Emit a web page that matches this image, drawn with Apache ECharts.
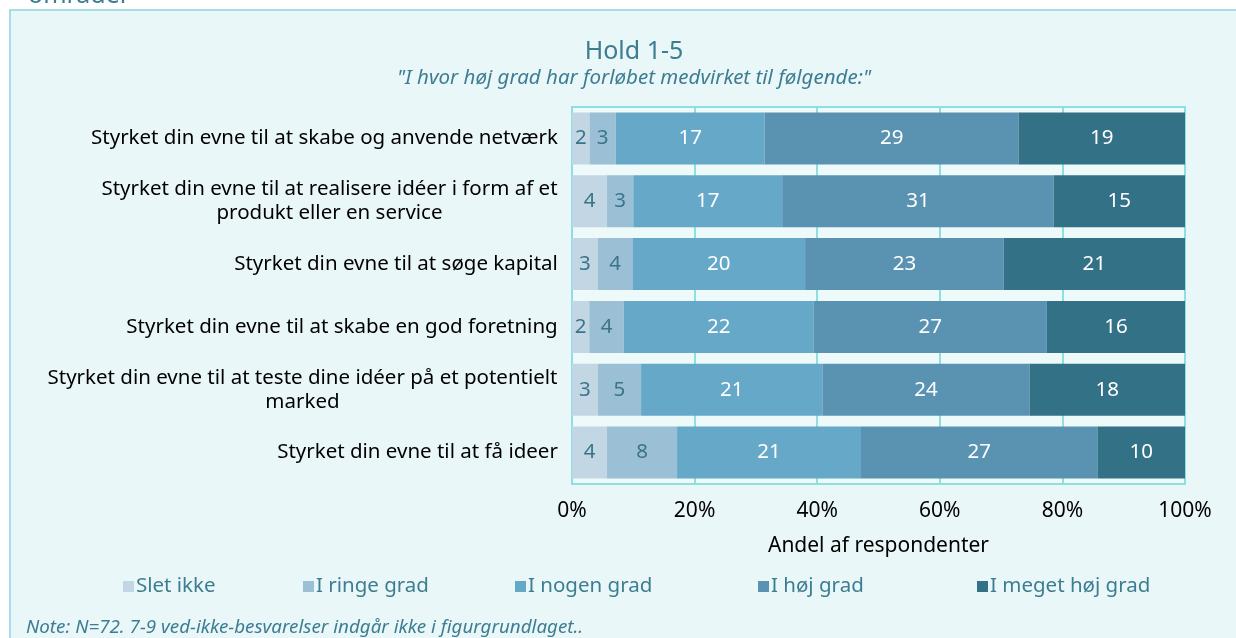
<!DOCTYPE html>
<html>
<head>
<meta charset="utf-8">
<script src="https://cdn.jsdelivr.net/npm/echarts@6/dist/echarts.min.js"></script>
<style>
  html, body { margin: 0; padding: 0; background: #ffffff; }
  #chart { width: 1236px; height: 638px; }
</style>
</head>
<body>
<div id="chart"></div>
<script>
// Data
const categories = [
    'Styrket din evne til at skabe og anvende netværk',
    'Styrket din evne til at realisere idéer i form af et\nprodukt eller en service',
    'Styrket din evne til at søge kapital',
    'Styrket din evne til at skabe en god foretning',
    'Styrket din evne til at teste dine idéer på et potentielt\nmarked',
    'Styrket din evne til at få ideer'
];
const seriesNames = ['Slet ikke', 'I ringe grad', 'I nogen grad', 'I høj grad', 'I meget høj grad'];
const sletIkke = [2, 4, 3, 2, 3, 4];
const iRingeGrad = [3, 3, 4, 4, 5, 8];
const iNogenGrad = [17, 17, 20, 22, 21, 21];
const iHoejGrad = [29, 31, 23, 27, 24, 27];
const iMegetHoejGrad = [19, 15, 21, 16, 18, 10];
const xTicks = ['0%', '20%', '40%', '60%', '80%', '100%'];

const colors = ['#c3d6e3', '#9bc0d6', '#65a8c8', '#5a93b2', '#337187'];
const labelColors = ['#3a7488', '#3a7488', '#ffffff', '#ffffff', '#ffffff'];
const textTeal = '#3d7d92';
const font = '"Noto Sans", sans-serif';
const labelSize = 20.5;

const allCounts = [sletIkke, iRingeGrad, iNogenGrad, iHoejGrad, iMegetHoejGrad];
const totals = categories.map((c, i) => allCounts.reduce((s, arr) => s + arr[i], 0));

// wrapped category labels are centred line by line, so measure the widest line
const ctx = document.createElement('canvas').getContext('2d');
ctx.font = labelSize + 'px "Noto Sans"';
const catRich = {};
categories.forEach((c, i) => {
    const w = Math.max(...c.split('\n').map(s => ctx.measureText(s).width));
    catRich['c' + i] = { width: Math.ceil(w), align: 'center', color: '#000', fontSize: labelSize, lineHeight: 24 };
});

const series = allCounts.map((arr, k) => ({
    name: seriesNames[k],
    type: 'bar',
    stack: 'total',
    barWidth: 52,
    itemStyle: { color: colors[k] },
    label: {
        show: true,
        color: labelColors[k],
        fontSize: labelSize,
        fontFamily: font,
        formatter: p => arr[p.dataIndex]
    },
    data: arr.map((v, i) => v / totals[i] * 100)
}));

// legend items placed like the original
const legendLeft = [118, 298, 510, 753, 972];
const legends = seriesNames.map((n, k) => ({
    data: [n],
    left: legendLeft[k],
    top: 571,
    itemWidth: 11,
    itemHeight: 11,
    itemGap: 0,
    icon: 'rect',
    textStyle: { color: textTeal, fontSize: 20.5, fontFamily: font, padding: [0, 0, 0, -3] }
}));

const chart = echarts.init(document.getElementById('chart'));
chart.setOption({
    animation: false,
    textStyle: { fontFamily: font },
    graphic: [
        {
            type: 'rect', z: -10,
            shape: { x: 10, y: 10, width: 1240, height: 640 },
            style: { fill: '#eaf7f8', stroke: '#a3dfe3', lineWidth: 2 }
        },
        {
            type: 'rect', z: -9,
            shape: { x: 572, y: 107, width: 613, height: 377 },
            style: { fill: '#eef9f9', stroke: '#8fdfe0', lineWidth: 2 }
        },
        {
            type: 'text', left: 28, top: -17, z: 5,
            style: { text: 'områder', fill: textTeal, fontSize: 25, fontFamily: font }
        },
        {
            type: 'text', left: 26, top: 618, z: 5,
            style: {
                text: 'Note: N=72. 7-9 ved-ikke-besvarelser indgår ikke i figurgrundlaget..',
                fill: textTeal, fontSize: 18.8, fontStyle: 'italic', fontFamily: font
            }
        }
    ],
    title: {
        text: 'Hold 1-5',
        subtext: '"I hvor høj grad har forløbet medvirket til følgende:"',
        left: 629,
        textAlign: 'center',
        top: 34,
        itemGap: 4,
        textStyle: { color: textTeal, fontSize: 25, fontWeight: 'normal', fontFamily: font },
        subtextStyle: { color: textTeal, fontSize: 20.5, fontStyle: 'italic', fontFamily: font }
    },
    legend: legends,
    grid: { left: 572, right: 51, top: 107, bottom: 154, containLabel: false },
    xAxis: {
        type: 'value',
        min: 0,
        max: 100,
        interval: 20,
        name: 'Andel af respondenter',
        nameLocation: 'middle',
        nameGap: 52,
        nameTextStyle: { color: '#000', fontSize: 21, fontFamily: font },
        axisLine: { show: false },
        axisTick: { show: false },
        axisLabel: {
            color: '#000', fontSize: 21, margin: 17, fontFamily: font,
            formatter: v => xTicks[Math.round(v / 20)]
        },
        splitLine: { show: true, lineStyle: { color: '#8fdfe0', width: 2 } }
    },
    yAxis: {
        type: 'category',
        inverse: true,
        data: categories,
        axisLine: { show: false },
        axisTick: { show: false },
        axisLabel: {
            margin: 14,
            align: 'right',
            formatter: (v, i) => v.split('\n').map(s => '{c' + i + '|' + s + '}').join('\n'),
            rich: catRich
        }
    },
    series: series
});
</script>
</body>
</html>
